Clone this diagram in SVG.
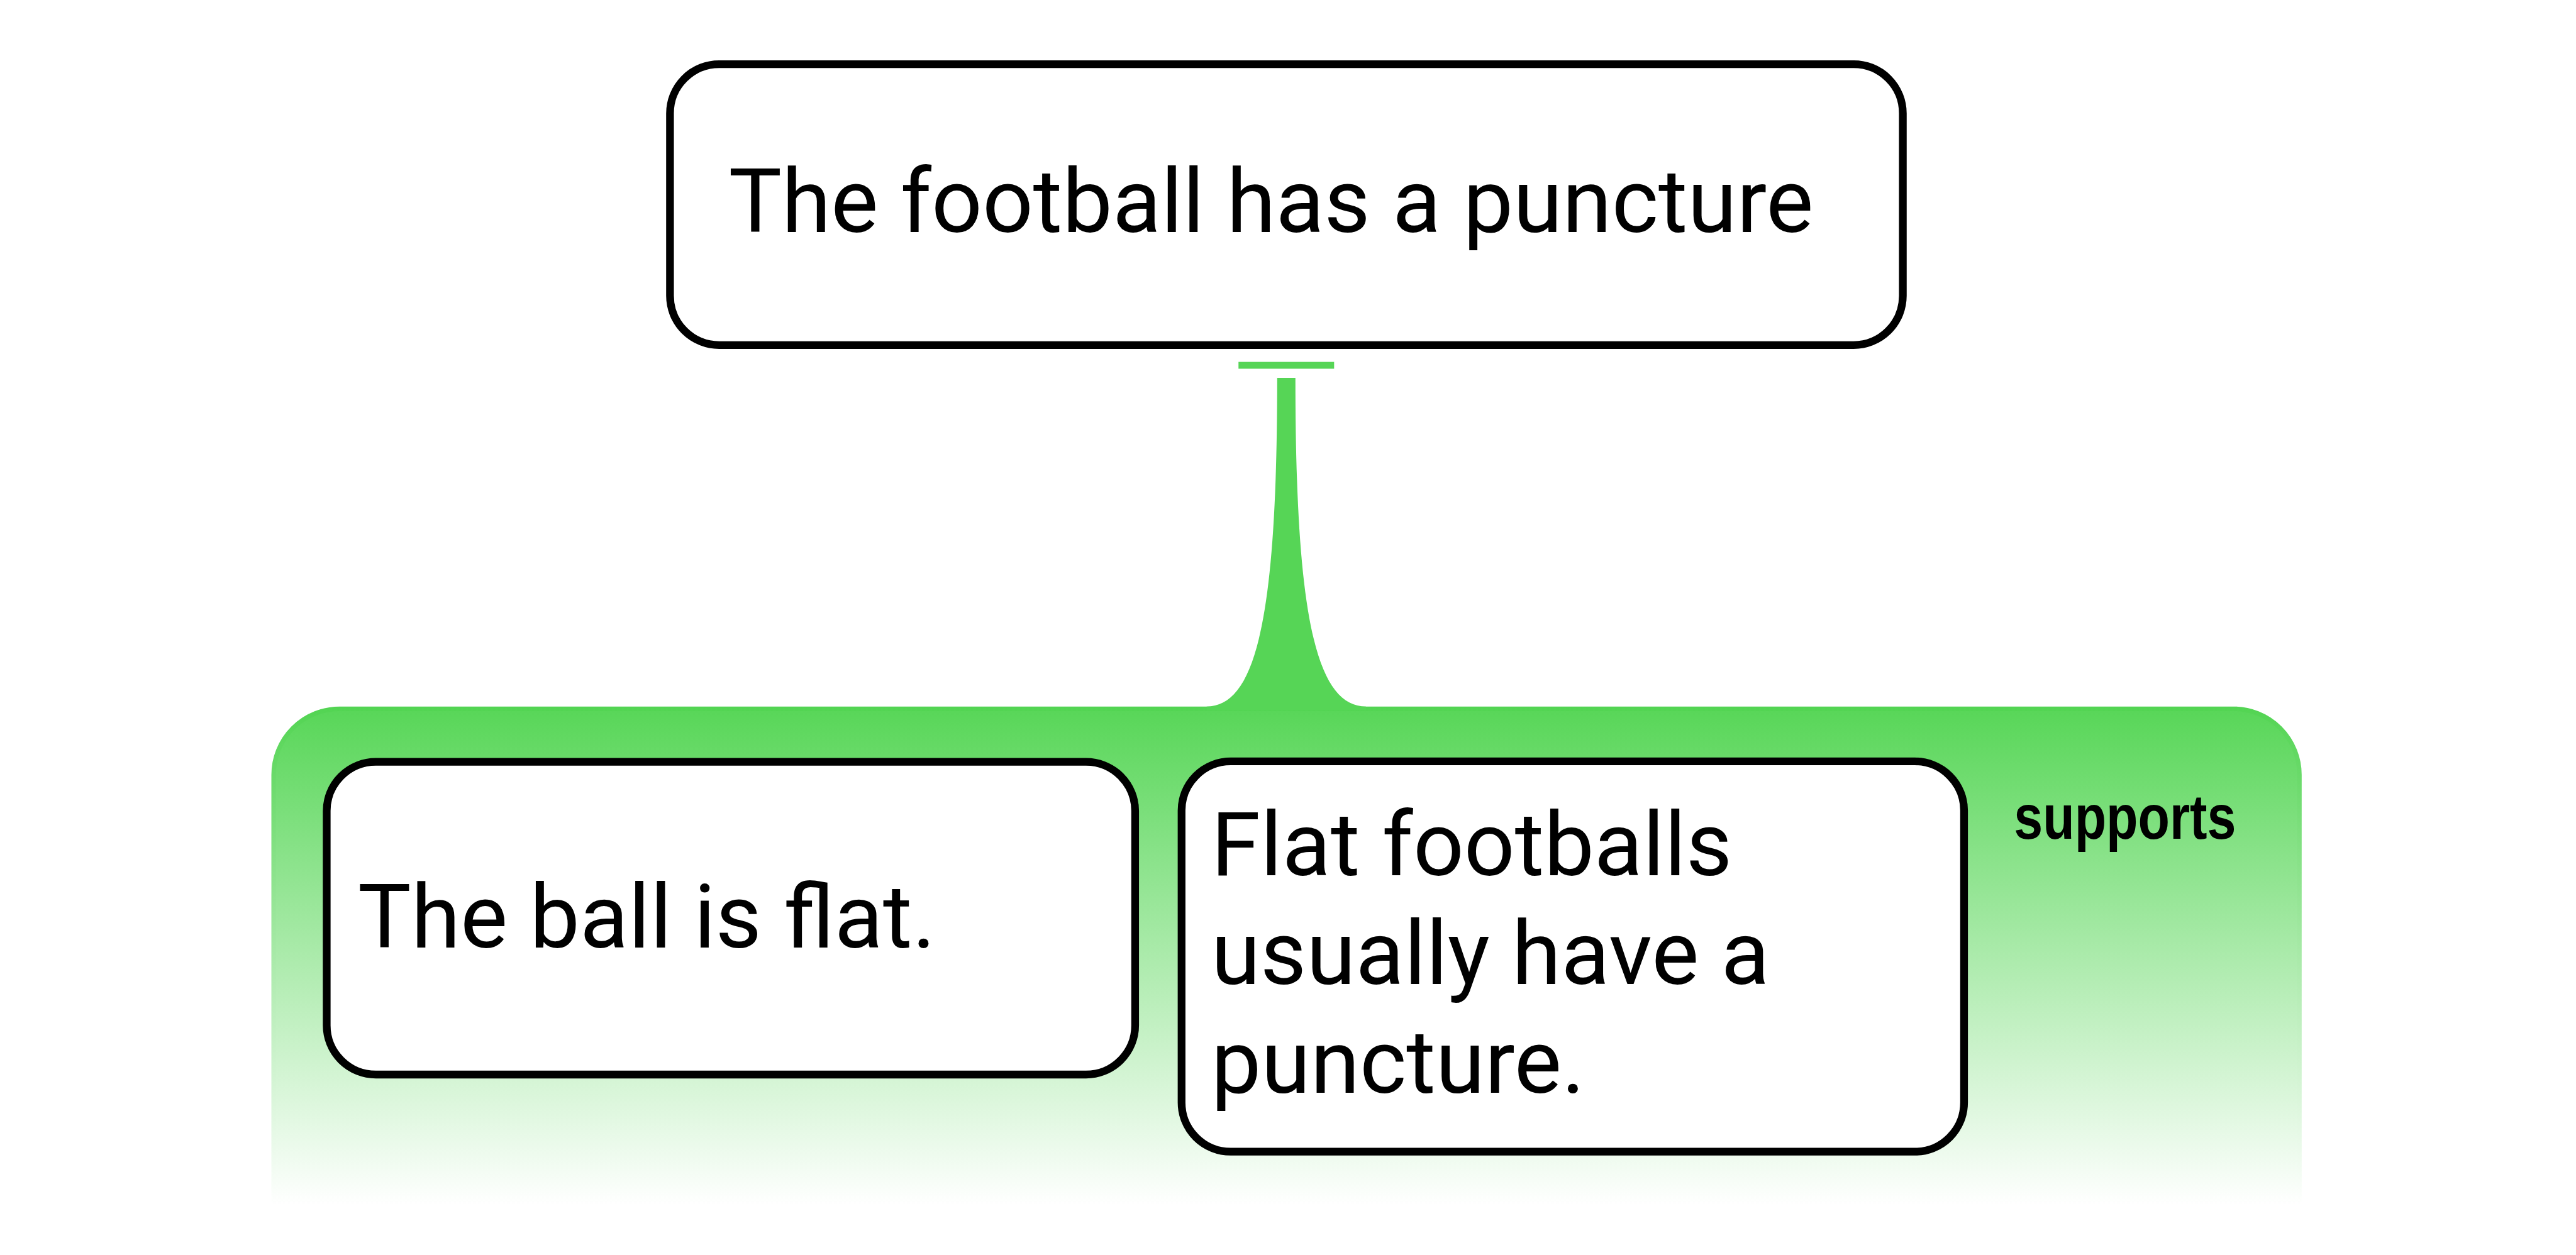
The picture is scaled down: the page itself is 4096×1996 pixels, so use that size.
<svg xmlns="http://www.w3.org/2000/svg" width="4096" height="1996" viewBox="0 0 4096 1996">
<defs>
<linearGradient id="gfill" gradientUnits="userSpaceOnUse" x1="0" y1="1552" x2="0" y2="2647">
<stop offset="0" stop-color="#57d657"/>
<stop offset="1" stop-color="#ffffff"/>
</linearGradient>
<linearGradient id="gstroke" gradientUnits="userSpaceOnUse" x1="0" y1="1552" x2="0" y2="2647">
<stop offset="0" stop-color="#52d452"/>
<stop offset="1" stop-color="#ffffff"/>
</linearGradient>
<style>
.node{fill:#ffffff;stroke:#000000;stroke-width:17}
.txt{font-family:Roboto,"Liberation Sans",sans-serif;font-size:196px;fill:#000000}
.lbl{font-family:"Liberation Sans Narrow","Liberation Sans",Arial,sans-serif;font-weight:bold;font-size:138px;fill:#000000}
.conn{fill:#56d556}
</style>
</defs>
<rect width="4096" height="1996" fill="#ffffff"/>
<g transform="scale(0.724)">
<g id="support-group">
<path d="M601,2647 L601,1702 A145,145 0 0 1 746,1557 L4905,1557 A145,145 0 0 1 5050,1702 L5050,2647" fill="url(#gfill)" stroke="url(#gstroke)" stroke-width="10"/>
<text class="lbl" x="4423" y="1842" textLength="488" lengthAdjust="spacingAndGlyphs">supports</text>
</g>
<g id="connectors">
<rect class="conn" x="2720" y="795" width="210" height="15"/>
<path class="conn" d="M2805,830 L2845,830 C2845,1350 2890,1552 3000,1552 L3000,1560 L2650,1560 L2650,1552 C2760,1552 2805,1350 2805,830 Z"/>
</g>
<g id="node-claim">
<rect class="node" x="1471.5" y="141" width="2707.5" height="617" rx="108" ry="108"/>
<text class="txt" x="1600" y="509">The football has a puncture</text>
</g>
<g id="node-premise1">
<rect class="node" x="717.5" y="1673.5" width="1775.5" height="687" rx="108" ry="108"/>
<text class="txt" x="786" y="2081">The ball is flat.</text>
</g>
<g id="node-premise2">
<rect class="node" x="2595" y="1672.5" width="1718.5" height="857.5" rx="108" ry="108"/>
<text class="txt" x="2660" y="1922">Flat footballs</text>
<text class="txt" x="2660" y="2161">usually have a</text>
<text class="txt" x="2660" y="2400">puncture.</text>
</g>
</g>
</svg>
